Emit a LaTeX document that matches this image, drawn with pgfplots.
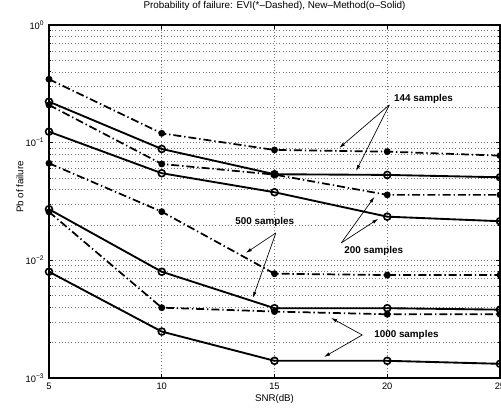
\documentclass[border=0pt]{standalone}
\usepackage{fontspec}
\setmainfont{Liberation Sans}
\usepackage{pgfplots}
\pgfplotsset{compat=1.18}
\usetikzlibrary{arrows.meta}

\tikzset{
  evi/.style={black, line width=1.3pt,
    dash pattern=on 6pt off 2.2pt on 1pt off 2.2pt,
    mark=*, mark size=1.9pt, mark options={solid}},
  newm/.style={black, line width=1.4pt, solid,
    mark=o, mark size=2.6pt, mark options={solid, line width=1.2pt}},
  lbl/.style={font=\bfseries\fontsize{7.4}{8}\selectfont},
  arr/.style={-{Latex[length=4.5pt,width=2.6pt]}, line width=0.5pt},
}

\begin{document}
\begin{tikzpicture}[x=1pt,y=1pt]
\useasboundingbox (-36.75,-23.25) rectangle (339,283.5);
\begin{axis}[
  at={(0,0)}, anchor=south west, scale only axis,
  width=338.25pt, height=264.75pt,
  ymode=log, xmin=5, xmax=25, ymin=1e-3, ymax=1,
  xtick={5,10,15,20,25},
  ytick={1e-3,1e-2,1e-1,1},
  yticklabels={10\textsuperscript{−3},10\textsuperscript{−2},10\textsuperscript{−1},10\textsuperscript{0}},
  minor ytick={2e-3,3e-3,4e-3,5e-3,6e-3,7e-3,8e-3,9e-3,
               2e-2,3e-2,4e-2,5e-2,6e-2,7e-2,8e-2,9e-2,
               2e-1,3e-1,4e-1,5e-1,6e-1,7e-1,8e-1,9e-1},
  grid=both,
  major grid style={dotted, black!55, line width=0.45pt},
  minor grid style={dotted, black!55, line width=0.45pt},
  axis line style={line width=1pt},
  tick style={black, line width=0.5pt},
  major tick length=3pt, minor tick length=1.6pt,
  tick align=inside,
  ticklabel style={font=\fontsize{7}{8}\selectfont},
  /pgf/number format/assume math mode=true,
  title={Probability of failure:  EVI(*–Dashed), New–Method(o–Solid)},
  title style={font=\fontsize{7.4}{8}\selectfont, at={(axis description cs:0.5,1)}, anchor=base, yshift=6.4pt},
  xlabel={SNR(dB)},
  xlabel style={font=\fontsize{7.3}{8}\selectfont, at={(axis description cs:0.5,0)}, anchor=base, yshift=-18pt},
  ylabel={Pb of failure},
  ylabel style={font=\fontsize{7.3}{8}\selectfont, at={(axis description cs:-0.0645,0.541)}, anchor=center},
  clip=false,
]
% EVI (dash-dot, filled markers)
\addplot[evi] coordinates {(5,0.346) (10,0.120) (15,0.0867) (20,0.0839) (25,0.0776)};
\addplot[evi] coordinates {(5,0.209) (10,0.0659) (15,0.0535) (20,0.036) (25,0.036)};
\addplot[evi] coordinates {(5,0.0668) (10,0.0259) (15,0.0077) (20,0.0075) (25,0.0075)};
\addplot[evi] coordinates {(5,0.0258) (10,0.00396) (15,0.00367) (20,0.00348) (25,0.00348)};
% New method (solid, open circles)
\addplot[newm] coordinates {(5,0.223) (10,0.0884) (15,0.0539) (20,0.0532) (25,0.0508)};
\addplot[newm] coordinates {(5,0.124) (10,0.0550) (15,0.0379) (20,0.0235) (25,0.0215)};
\addplot[newm] coordinates {(5,0.0272) (10,0.0080) (15,0.00392) (20,0.00392) (25,0.00381)};
\addplot[newm] coordinates {(5,0.0080) (10,0.00248) (15,0.0014) (20,0.0014) (25,0.00132)};

% annotations
\node[lbl] at (axis cs:21.61,0.235) {144 samples};
\draw[arr] (axis cs:20.09,0.209) -- (axis cs:17.87,0.0901);
\draw[arr] (axis cs:20.09,0.209) -- (axis cs:18.62,0.0575);

\node[lbl] at (axis cs:19.40,0.0120) {200 samples};
\draw[arr] (axis cs:17.96,0.01406) -- (axis cs:19.43,0.0346);
\draw[arr] (axis cs:17.96,0.01406) -- (axis cs:19.60,0.0225);

\node[lbl] at (axis cs:14.57,0.0212) {500 samples};
\draw[arr] (axis cs:15.06,0.0171) -- (axis cs:13.73,0.01156);
\draw[arr] (axis cs:15.06,0.0171) -- (axis cs:14.04,0.0048);

\node[lbl] at (axis cs:20.85,0.00232) {1000 samples};
\draw[arr] (axis cs:18.89,0.00232) -- (axis cs:17.51,0.00324);
\draw[arr] (axis cs:18.89,0.00232) -- (axis cs:17.20,0.00151);
\end{axis}
\end{tikzpicture}
\end{document}
